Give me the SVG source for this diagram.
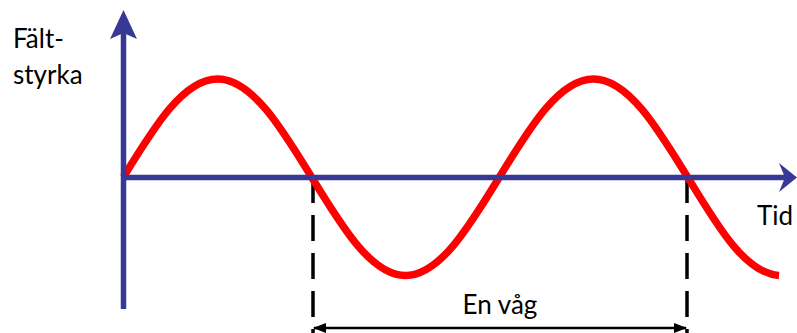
<svg xmlns="http://www.w3.org/2000/svg" width="797" height="333" viewBox="0 0 797 333">
<style>
.axis{stroke:#383897;stroke-width:5.5;fill:none}
.head{fill:#383897}
.wave{stroke:#ff0000;stroke-width:7.5;fill:none;stroke-linecap:butt}
.dash{stroke:#000;stroke-width:3.5;stroke-dasharray:26 12;fill:none}
.dim{stroke:#000;stroke-width:2.5;fill:none}
.lbl{font-family:Lato,"Open Sans","Liberation Sans",sans-serif;font-size:26px;fill:#000}
</style>
<defs>
<marker id="arrS" markerWidth="14" markerHeight="12" refX="1" refY="6" orient="auto" markerUnits="userSpaceOnUse">
<path d="M0,6 L13,1 L13,11 Z" fill="#000"/>
</marker>
<marker id="arrE" markerWidth="14" markerHeight="12" refX="13" refY="6" orient="auto" markerUnits="userSpaceOnUse">
<path d="M14,6 L1,1 L1,11 Z" fill="#000"/>
</marker>
</defs>
<g id="connectors">
<path class="dash" d="M313,177 V333"/>
<path class="dash" d="M687,177 V333"/>
<path class="dim" d="M314,328 H686" marker-start="url(#arrS)" marker-end="url(#arrE)"/>
</g>
<g id="wave">
<path class="wave" d="M123.5,177 C154.16,126.8 183.48,79 217.5,79 C251.52,79 280.84,126.8 311.5,177 C342.16,227.2 371.48,275.5 405.5,275.5 C439.52,275.5 468.84,227.2 499.5,177 C530.16,126.8 559.48,79 593.5,79 C627.52,79 656.84,126.8 687.5,177 C718.16,227.2 745,273 779,275.5"/>
</g>
<g id="y-axis">
<path class="axis" d="M123.5,309 V32"/>
<polygon class="head" points="123.5,10 137,39 123.5,33 110,39"/>
</g>
<g id="x-axis">
<path class="axis" d="M121,177.5 H786"/>
<polygon class="head" points="797,177.5 779,163 785,177.5 779,192"/>
</g>
<g id="labels">
<text class="lbl" x="13" y="48">Fält-</text>
<text class="lbl" x="13" y="84">styrka</text>
<text class="lbl" x="757" y="225">Tid</text>
<text class="lbl" x="500" y="314" text-anchor="middle">En våg</text>
</g>
</svg>
